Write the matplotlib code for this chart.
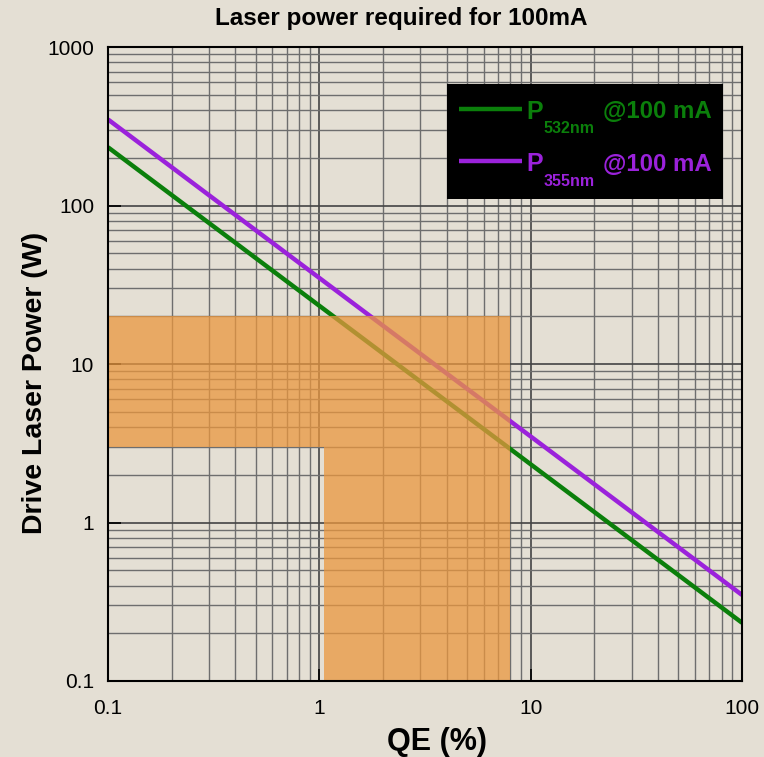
import matplotlib
matplotlib.use('Agg')
import matplotlib.pyplot as plt
from matplotlib.patches import Rectangle
from matplotlib.ticker import FixedLocator, FixedFormatter, LogLocator, NullFormatter

plt.rcParams['font.family'] = ['Liberation Sans', 'DejaVu Sans']

# data
qe = [0.1, 100]            # QE (%)
p532 = [233, 0.233]        # W @100 mA, 532 nm
p355 = [349, 0.349]        # W @100 mA, 355 nm

# shaded region (QE, power) corners
region_x = [0.1, 8, 8, 1.05, 1.05, 0.1]
region_y = [20, 20, 0.1, 0.1, 3, 3]

xticks = [0.1, 1, 10, 100]
xlabels = ['0.1', '1', '10', '100']
yticks = [0.1, 1, 10, 100, 1000]
ylabels = ['0.1', '1', '10', '100', '1000']

bg = '#E4DFD4'
green = '#0B7F0B'
purple = '#9B22DB'

fig = plt.figure(figsize=(7.64, 7.57), dpi=100, facecolor=bg)
ax = fig.add_axes([0.1414, 0.1004, 0.8298, 0.8375], facecolor=bg)

ax.set_xscale('log')
ax.set_yscale('log')
ax.set_xlim(0.1, 100)
ax.set_ylim(0.1, 1000)

ax.plot(qe, p532, color=green, lw=3.2, zorder=3, solid_capstyle='butt')
ax.plot(qe, p355, color=purple, lw=3.2, zorder=3, solid_capstyle='butt')

ax.fill(region_x, region_y, color='#EA973F', alpha=0.75, lw=0, zorder=4)

ax.xaxis.set_major_locator(FixedLocator(xticks))
ax.xaxis.set_major_formatter(FixedFormatter(xlabels))
ax.yaxis.set_major_locator(FixedLocator(yticks))
ax.yaxis.set_major_formatter(FixedFormatter(ylabels))
ax.xaxis.set_minor_locator(LogLocator(base=10, subs=range(2, 10)))
ax.yaxis.set_minor_locator(LogLocator(base=10, subs=range(2, 10)))
ax.xaxis.set_minor_formatter(NullFormatter())
ax.yaxis.set_minor_formatter(NullFormatter())

ax.grid(which='major', color='#444444', lw=1.2, zorder=1)
ax.grid(which='minor', color='#6e6e6e', lw=1.0, zorder=1)
ax.set_axisbelow(True)

ax.tick_params(which='major', direction='in', length=9, width=1.2, labelsize=15, pad=10, colors='black')
ax.tick_params(axis='x', which='major', pad=13)
ax.tick_params(which='minor', length=0)
for s in ax.spines.values():
    s.set_linewidth(1.5)
    s.set_color('black')
    s.set_zorder(6)

ax.set_xlabel('QE (%)', fontsize=22, fontweight='bold')
ax.xaxis.set_label_coords(0.519, -0.072)
ax.set_ylabel('Drive Laser Power (W)', fontsize=20.5, fontweight='bold')
ax.yaxis.set_label_coords(-0.095, 0.47)
fig.text(0.525, 0.975, 'Laser power required for 100mA', ha='center', va='center',
         fontsize=17.5, fontweight='bold')

# legend box
ax.add_patch(Rectangle((0.535, 0.760), 0.435, 0.182, transform=ax.transAxes,
                       facecolor='black', edgecolor='none', zorder=7))
entries = [(green, '532nm', 0.903), (purple, '355nm', 0.820)]
for col, sub, yy in entries:
    ax.plot([0.554, 0.653], [yy, yy], transform=ax.transAxes, color=col, lw=3.2, zorder=8,
            solid_capstyle='butt')
    ax.text(0.660, yy - 0.005, 'P', transform=ax.transAxes, color=col, fontsize=18,
            fontweight='bold', va='center', ha='left', zorder=8)
    ax.text(0.687, yy - 0.032, sub, transform=ax.transAxes, color=col, fontsize=11.5,
            fontweight='bold', va='center', ha='left', zorder=8)
    ax.text(0.781, yy - 0.005, '@100 mA', transform=ax.transAxes, color=col, fontsize=17.3,
            fontweight='bold', va='center', ha='left', zorder=8)

fig.savefig('out.png', dpi=100, facecolor=bg)
